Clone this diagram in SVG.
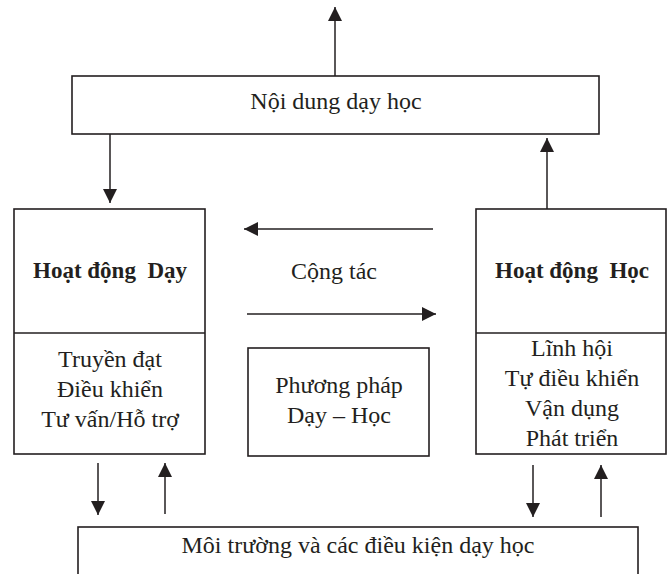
<svg xmlns="http://www.w3.org/2000/svg" width="670" height="574" viewBox="0 0 670 574">
<style>
  .box { fill: #ffffff; stroke: #231f20; stroke-width: 1.6; }
  .div { stroke: #231f20; stroke-width: 1.6; }
  .con { stroke: #231f20; stroke-width: 1.5; fill: none; marker-end: url(#ah); }
  text { font-family: "Liberation Serif", "Times New Roman", serif; font-size: 24px; fill: #231f20; text-anchor: middle; white-space: pre; }
  .b { font-weight: bold; font-size: 23px; }
</style>
<defs>
  <marker id="ah" viewBox="0 0 14 14" refX="14" refY="7" markerWidth="14" markerHeight="14" markerUnits="userSpaceOnUse" orient="auto">
    <path d="M0,0 L14,7 L0,14 z" fill="#231f20"/>
  </marker>
</defs>
<rect width="670" height="574" fill="#ffffff"/>
<g id="connectors">
  <line class="con" x1="335" y1="76" x2="335" y2="7"/>
  <line class="con" x1="110" y1="134" x2="110" y2="203"/>
  <line class="con" x1="547" y1="209" x2="547" y2="138"/>
  <line class="con" x1="433" y1="229" x2="244" y2="229"/>
  <line class="con" x1="247" y1="314" x2="436" y2="314"/>
  <line class="con" x1="98" y1="463" x2="98" y2="515"/>
  <line class="con" x1="165" y1="514" x2="165" y2="463"/>
  <line class="con" x1="533" y1="465" x2="533" y2="517"/>
  <line class="con" x1="601" y1="517" x2="601" y2="465"/>
</g>
<g id="noi-dung">
  <rect class="box" x="72" y="76" width="527" height="58"/>
  <text x="336" y="109">Nội dung dạy học</text>
</g>
<g id="hoat-dong-day">
  <rect class="box" x="14" y="209" width="191" height="245"/>
  <line class="div" x1="14" y1="333" x2="205" y2="333"/>
  <text class="b" x="110" y="278">Hoạt động  Dạy</text>
  <text x="110" y="367">Truyền đạt</text>
  <text x="110" y="397">Điều khiển</text>
  <text x="110" y="427">Tư vấn/Hỗ trợ</text>
</g>
<g id="cong-tac">
  <text x="334" y="279">Cộng tác</text>
</g>
<g id="phuong-phap">
  <rect class="box" x="248" y="348" width="181" height="108"/>
  <text x="339" y="393">Phương pháp</text>
  <text x="339" y="423">Dạy – Học</text>
</g>
<g id="hoat-dong-hoc">
  <rect class="box" x="476" y="209" width="190" height="245"/>
  <line class="div" x1="476" y1="333" x2="666" y2="333"/>
  <text class="b" x="572" y="278">Hoạt động  Học</text>
  <text x="572" y="356">Lĩnh hội</text>
  <text x="572" y="386">Tự điều khiển</text>
  <text x="572" y="416">Vận dụng</text>
  <text x="572" y="446">Phát triển</text>
</g>
<g id="moi-truong">
  <rect class="box" x="78" y="527" width="560" height="80"/>
  <text x="358" y="553">Môi trường và các điều kiện dạy học</text>
</g>
</svg>
